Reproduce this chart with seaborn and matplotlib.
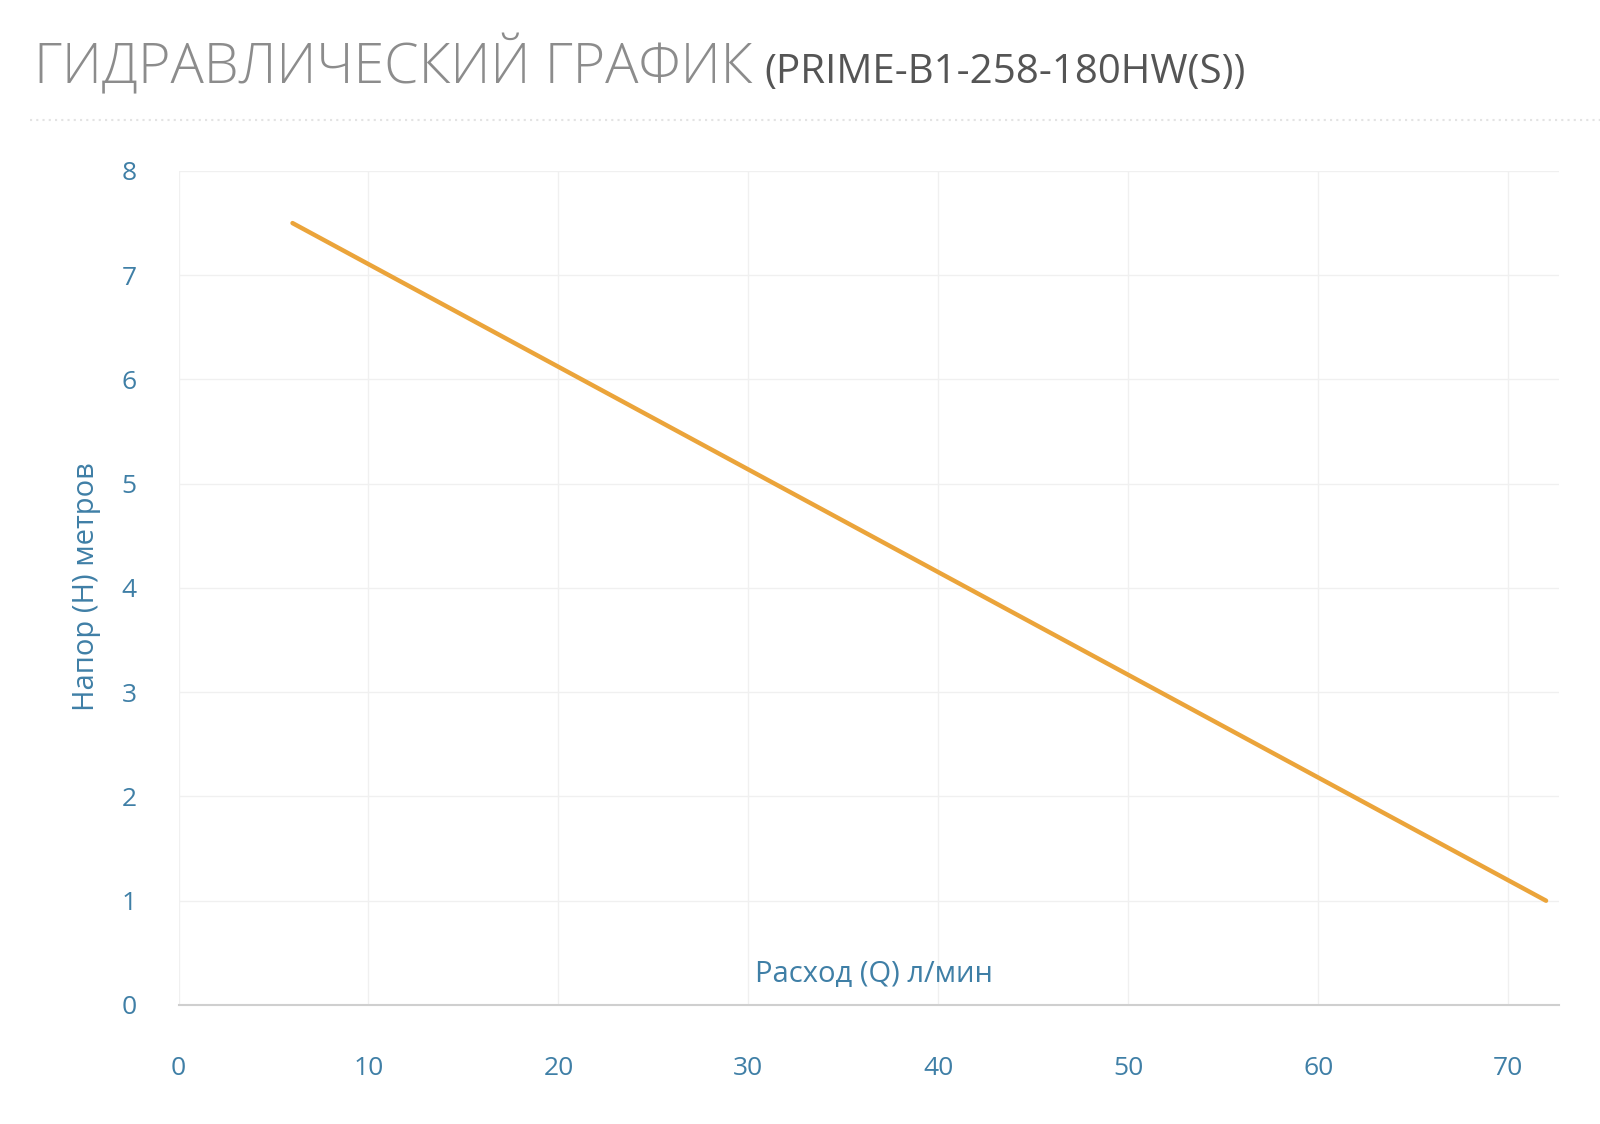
import matplotlib
matplotlib.use('Agg')
import matplotlib.pyplot as plt
import seaborn as sns
import pandas as pd
from matplotlib.lines import Line2D

# data
flow = [6, 72]          # Расход (Q) л/мин
head = [7.5, 1.0]       # Напор (H) метров
x_ticks = [0, 10, 20, 30, 40, 50, 60, 70]
y_ticks = [0, 1, 2, 3, 4, 5, 6, 7, 8]

title_main = 'ГИДРАВЛИЧЕСКИЙ ГРАФИК'
title_model = '(PRIME-B1-258-180HW(S))'
x_label = 'Расход (Q) л/мин'
y_label = 'Напор (H) метров'

sns.set_theme(style='white')
plt.rcParams['font.family'] = ['Open Sans', 'DejaVu Sans']

tick_color = '#3f7fa6'
line_color = '#eba43a'

df = pd.DataFrame({'flow': flow, 'head': head})

fig = plt.figure(figsize=(16, 11.24), dpi=100)
ax = fig.add_axes([0.1116, 0.1059, 0.863, 0.742])

sns.lineplot(data=df, x='flow', y='head', ax=ax, color=line_color,
             linewidth=3.2, solid_capstyle='round')

ax.set_xlim(0, 72.7)
ax.set_ylim(0, 8)
ax.set_xticks(x_ticks)
ax.set_yticks(y_ticks)
ax.grid(True, color='#f0f0f0', linewidth=1)
ax.set_axisbelow(True)

for side in ['top', 'right', 'left']:
    ax.spines[side].set_visible(False)
ax.spines['bottom'].set_color('#cfcfcf')
ax.spines['bottom'].set_linewidth(1.5)

ax.tick_params(axis='x', colors='#cfcfcf', length=18, width=1.2,
               pad=19, labelcolor=tick_color, labelsize=19)
ax.tick_params(axis='y', length=0, pad=30, labelcolor=tick_color,
               labelsize=19)

ax.set_xlabel('')
ax.set_ylabel('')
ax.text(36.6, 0.29, x_label, color=tick_color, fontsize=21,
        ha='center', va='center')
fig.text(0.054, 0.478, y_label, color=tick_color, fontsize=21,
         rotation=90, ha='center', va='center')

# header
t = fig.text(0.021, 0.926, title_main, color='#8c8c8c', fontsize=40,
             fontweight='light', ha='left', va='baseline')
fig.canvas.draw()
bb = t.get_window_extent()
fig.text(bb.x1 / fig.bbox.width + 0.008, 0.926, title_model,
         color='#555555', fontsize=29, ha='left', va='baseline')

fig.add_artist(Line2D([0.019, 1.0], [0.893, 0.893], transform=fig.transFigure,
                      color='#e3e3e3', linewidth=1.5, linestyle=(0, (1, 2))))

fig.savefig('out.png', dpi=100)
